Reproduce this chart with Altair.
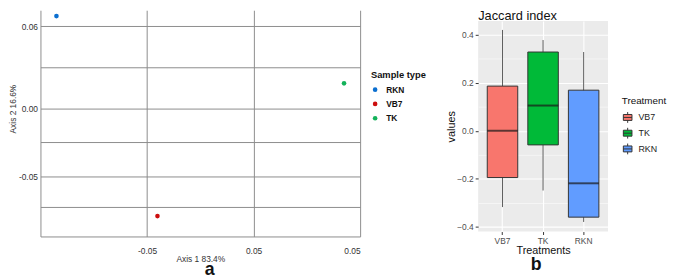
import altair as alt
import pandas as pd

# ---------------- Panel a : ordination ----------------
sample_types = ["RKN", "VB7", "TK"]
axis1_vals = [-0.135, -0.0402, 0.1349]
axis2_vals = [0.0673, -0.0790, 0.0181]
sample_colors = ["#0b6fd0", "#cc0e0e", "#13b25a"]

x_tick_values = [-0.05, 0.05, 0.15]
x_tick_labels = ["-0.05", "0.05", "0.05"]
y_tick_values = [0.06, 0.03, 0.0, -0.025, -0.05, -0.072]
y_tick_labels = ["0.06", "", "0.00", "", "-0.05", ""]

# ---------------- Panel b : Jaccard boxplot ----------------
treatments = ["VB7", "TK", "RKN"]
whisker_low = [-0.318, -0.249, -0.38]
q1_vals = [-0.195, -0.059, -0.36]
median_vals = [0.0, 0.105, -0.219]
q3_vals = [0.186, 0.328, 0.169]
whisker_high = [0.42, 0.378, 0.328]
treat_colors = ["#F8766D", "#00BA38", "#619CFF"]
b_y_ticks = [-0.4, -0.3, -0.2, -0.1, 0.0, 0.1, 0.2, 0.3, 0.4]

panel_labels = ["a", "b"]
b_title = ["Jaccard index"]

FONT = "Liberation Sans"


def label_expr(values, labels):
    pairs = sorted(zip(values, labels))
    expr = "'" + pairs[-1][1] + "'"
    for i in range(len(pairs) - 2, -1, -1):
        mid = (pairs[i][0] + pairs[i + 1][0]) / 2
        expr = f"datum.value < {mid} ? '{pairs[i][1]}' : ({expr})"
    return expr


pcoa = pd.DataFrame({"Axis1": axis1_vals, "Axis2": axis2_vals, "Sample type": sample_types})

grid_gray = "#8c8c8c"
pts = alt.Chart(pcoa).mark_circle(size=22, opacity=1).encode(
    x=alt.X("Axis1:Q",
            scale=alt.Scale(domain=[-0.15, 0.15], nice=False, zero=False),
            axis=alt.Axis(values=x_tick_values, labelExpr=label_expr(x_tick_values, x_tick_labels),
                          title="Axis 1 83.4%", grid=True, gridColor=grid_gray, gridWidth=1,
                          domain=True, domainColor=grid_gray, ticks=False, labelFlush=True,
                          labelPadding=10, labelFont=FONT, labelFontSize=8.5, labelColor="#333333",
                          titleFont=FONT, titleFontSize=8.5, titleFontWeight="normal", titleColor="#333333",
                          titleBaseline="middle", titleY=22)),
    y=alt.Y("Axis2:Q",
            scale=alt.Scale(domain=[-0.0939, 0.0716], nice=False, zero=False),
            axis=alt.Axis(values=y_tick_values, labelExpr=label_expr(y_tick_values, y_tick_labels),
                          title="Axis 2 16.6%", grid=True, gridColor=grid_gray, gridWidth=1,
                          domain=True, domainColor=grid_gray, ticks=False, labelPadding=3,
                          labelFont=FONT, labelFontSize=8.5, labelColor="#333333",
                          titleFont=FONT, titleFontSize=8.5, titleFontWeight="normal", titleColor="#333333",
                          titlePadding=1, titleY=100)),
    color=alt.Color("Sample type:N",
                    scale=alt.Scale(domain=sample_types, range=sample_colors),
                    legend=alt.Legend(orient="none", legendX=336, legendY=61, title="Sample type",
                                      titleFont=FONT, titleFontSize=9.5, titleFontWeight="bold",
                                      titleColor="#111111", titlePadding=6,
                                      labelFont=FONT, labelFontSize=8.5, labelFontWeight="bold",
                                      labelColor="#111111", symbolType="circle", symbolSize=22,
                                      rowPadding=5.5, labelOffset=7)),
)

lab_a = alt.Chart(pd.DataFrame({"panel": [panel_labels[0]]})).mark_text(
    font=FONT, fontSize=18, fontWeight="bold", baseline="alphabetic", align="center", color="#111111"
).encode(text="panel:N", x=alt.value(172), y=alt.value(269))

left = alt.layer(pts, lab_a).properties(
    width=325, height=230, view=alt.ViewBackground(strokeWidth=0)
)

box = pd.DataFrame({
    "Treatment": treatments, "low": whisker_low, "q1": q1_vals,
    "median": median_vals, "q3": q3_vals, "high": whisker_high,
})

minor_test = "round(datum.value * 10) % 2 != 0"
x_enc = alt.X("Treatment:N", sort=treatments,
              scale=alt.Scale(paddingInner=0, paddingOuter=0.1),
              axis=alt.Axis(labelAngle=0, title="Treatments", grid=True, gridColor="white",
                            gridWidth=1.1, bandPosition=0.5, domain=False, tickColor="#333333",
                            tickSize=3, labelPadding=2, labelFont=FONT, labelFontSize=8.5,
                            labelColor="#4d4d4d", titleFont=FONT, titleFontSize=11,
                            titleFontWeight="normal", titleColor="#111111", titlePadding=0))
y_scale = alt.Scale(domain=[-0.42, 0.457], nice=False, zero=False)
y_axis = alt.Axis(values=b_y_ticks, labelExpr=f"{minor_test} ? '' : format(datum.value, '.1f')",
                  grid=True, gridColor="white",
                  gridWidth={"condition": {"test": minor_test, "value": 0.5}, "value": 1.1},
                  tickColor={"condition": {"test": minor_test, "value": "transparent"}, "value": "#333333"},
                  tickSize=3, domain=False, labelPadding=2, labelFont=FONT, labelFontSize=8.5,
                  labelColor="#4d4d4d", title="values", titleFont=FONT, titleFontSize=11,
                  titleFontWeight="normal", titleColor="#111111", titlePadding=0)

base = alt.Chart(box)
whiskers = base.mark_rule(color="#333333", strokeWidth=0.8).encode(
    x=x_enc, y=alt.Y("low:Q", scale=y_scale, axis=y_axis), y2="high:Q")
boxes = base.mark_bar(size=31, stroke="#333333", strokeWidth=1).encode(
    x=x_enc, y=alt.Y("q1:Q", scale=y_scale, axis=y_axis), y2="q3:Q",
    color=alt.Color("Treatment:N", scale=alt.Scale(domain=treatments, range=treat_colors),
                    legend=alt.Legend(orient="none", legendX=146, legendY=87, title="Treatment",
                                      titleFont=FONT, titleFontSize=10, titleFontWeight="normal",
                                      titleColor="#111111", titlePadding=6,
                                      labelFont=FONT, labelFontSize=9, labelColor="#222222",
                                      symbolType="M-0.8,-0.55H0.8V0.55H-0.8Z M-0.8,0H0.8 M0,-0.55V-1 M0,0.55V1",
                                      symbolSize=120, symbolStrokeColor="#333333",
                                      symbolStrokeWidth=1, symbolOpacity=1, rowPadding=0,
                                      labelOffset=5)))
medians = base.mark_tick(size=31, thickness=2, color="#1a1a1a").encode(
    x=x_enc, y=alt.Y("median:Q", scale=y_scale, axis=y_axis))

lab_b = alt.Chart(pd.DataFrame({"panel": [panel_labels[1]]})).mark_text(
    font=FONT, fontSize=18, fontWeight="bold", baseline="alphabetic", align="center", color="#111111"
).encode(text="panel:N", x=alt.value(59), y=alt.value(253))

right = alt.layer(whiskers, boxes, medians, lab_b).properties(
    width=132, height=214,
    view=alt.ViewBackground(fill="#EBEBEB", strokeWidth=0),
)

title_row = alt.Chart(pd.DataFrame({"t": b_title})).mark_text(
    font=FONT, fontSize=13, baseline="top", align="left", color="#111111"
).encode(text="t:N", x=alt.value(0), y=alt.value(0)).properties(
    width=132, height=10, view=alt.ViewBackground(strokeWidth=0))

right_col = alt.vconcat(title_row, right, spacing=1, bounds="flush")

chart = alt.hconcat(left, right_col, spacing=20).resolve_scale(color="independent").resolve_legend(
    color="independent").properties(padding=0)

chart.save("out.html", embed_options={"renderer": "svg", "actions": False})
